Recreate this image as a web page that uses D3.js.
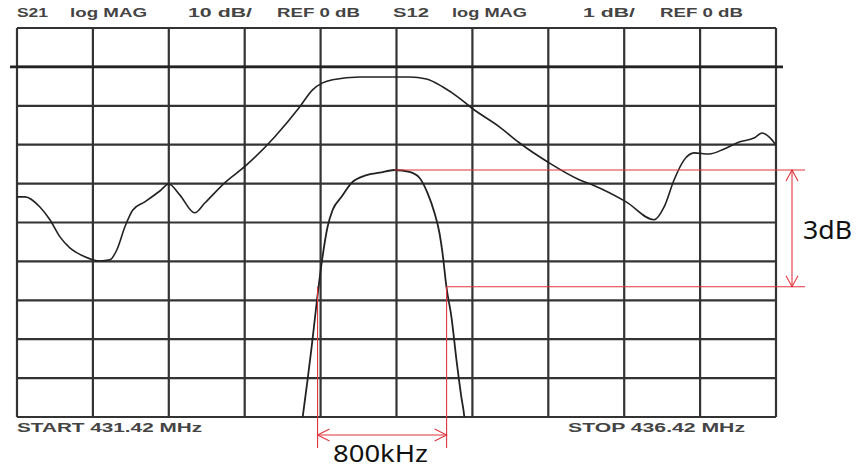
<!DOCTYPE html>
<html>
<head>
<meta charset="utf-8">
<script src="https://cdn.jsdelivr.net/npm/d3@7"></script>
<style>
body { margin: 0; background: #fff; }
svg { display: block; }
</style>
</head>
<body>
<svg></svg>
<script>
// sweep / display settings
const startMHz = 431.42;
const stopMHz = 436.42;
const s21Range = [-90, 10];   // 10 dB/div, REF 0 dB
const s12Range = [-9, 1];     // 1 dB/div, REF 0 dB

// S21 trace, log MAG (dB)
const s21Freq = [431.42, 431.473, 431.571, 431.637, 431.703, 431.768, 431.867, 431.966, 432.032, 432.078,
  432.131, 432.183, 432.262, 432.361, 432.42, 432.492, 432.591, 432.657, 432.788, 432.927,
  433.117, 433.282, 433.367, 433.433, 433.499, 433.677, 433.808, 434.006, 434.117, 434.223,
  434.334, 434.413, 434.598, 434.729, 434.927, 435.124, 435.209, 435.433, 435.617, 435.683,
  435.749, 435.815, 435.881, 435.979, 436.078, 436.177, 436.275, 436.328, 436.374, 436.42];
const s21Db = [-33.4, -33.4, -36.0, -39.3, -43.7, -46.5, -48.8, -49.9, -49.6, -47.0,
  -41.1, -36.8, -34.7, -31.9, -30.1, -32.9, -37.5, -35.0, -29.8, -25.4,
  -18.0, -10.3, -5.9, -4.1, -3.3, -2.6, -2.6, -2.6, -3.1, -5.1,
  -8.0, -10.5, -15.4, -19.5, -24.7, -29.0, -30.3, -34.7, -39.3, -36.0,
  -29.0, -23.9, -22.1, -22.4, -21.1, -19.3, -18.3, -17.0, -18.0, -20.1];

// S12 trace, log MAG (dB)
const s12Freq = [433.282, 433.302, 433.334, 433.361, 433.394, 433.427, 433.466, 433.499, 433.558, 433.624,
  433.723, 433.808, 433.907, 434.006, 434.071, 434.124, 434.170, 434.203, 434.223, 434.249,
  434.282, 434.315, 434.347, 434.367, 434.380];
const s12Db = [-9.6, -9.0, -8.05, -7.2, -6.07, -5.04, -4.11, -3.68, -3.34, -2.98,
  -2.78, -2.72, -2.65, -2.70, -2.85, -3.24, -3.75, -4.27, -4.78, -5.66,
  -6.43, -7.53, -8.48, -9.0, -9.6];

// 3 dB bandwidth markers
const peakFreq = 433.907;
const peakDb = -2.65;
const lowDb = -5.65;
const bwFreq = [433.40, 434.25];
const bwLabel = "800kHz";
const dbLabel = "3dB";

const headerText = ["S21", "log MAG", "10 dB/", "REF 0 dB", "S12", "log MAG", "1 dB/", "REF 0 dB"];
const footerText = ["START  431.42 MHz", "STOP  436.42 MHz"];

// layout
const width = 857, height = 468;
const frame = { left: 17, right: 776, top: 28, bottom: 417 };

const svg = d3.select("svg")
  .attr("width", width)
  .attr("height", height)
  .style("font-family", "'Liberation Sans', Arial, sans-serif");

const x = d3.scaleLinear().domain([startMHz, stopMHz]).range([frame.left, frame.right]);
const y21 = d3.scaleLinear().domain(s21Range).range([frame.bottom, frame.top]);
const y12 = d3.scaleLinear().domain(s12Range).range([frame.bottom, frame.top]);

const gridColor = "#333";
const red = "#e0353d";

// grid
const vLines = d3.range(11).map(i => startMHz + i * 0.5);
const hLines = d3.range(11).map(i => s21Range[0] + i * 10);

svg.append("g").selectAll("line")
  .data(vLines)
  .enter()
  .append("line")
  .attr("x1", d => x(d)).attr("x2", d => x(d))
  .attr("y1", frame.top).attr("y2", frame.bottom)
  .attr("stroke", gridColor)
  .attr("stroke-width", 2.2);

svg.append("g").selectAll("line")
  .data(hLines)
  .enter()
  .append("line")
  .attr("x1", frame.left).attr("x2", frame.right)
  .attr("y1", d => y21(d)).attr("y2", d => y21(d))
  .attr("stroke", gridColor)
  .attr("stroke-width", 2.2);

// reference line (0 dB) with little ticks out of the frame
svg.append("line")
  .attr("x1", frame.left - 7).attr("x2", frame.right + 7)
  .attr("y1", y21(0)).attr("y2", y21(0))
  .attr("stroke", "#222")
  .attr("stroke-width", 2.6);

// clip traces to the graticule
svg.append("clipPath").attr("id", "frame")
  .append("rect")
  .attr("x", frame.left).attr("y", frame.top)
  .attr("width", frame.right - frame.left).attr("height", frame.bottom - frame.top);

const s21 = s21Freq.map((f, i) => ({ f: f, db: s21Db[i] }));
const s12 = s12Freq.map((f, i) => ({ f: f, db: s12Db[i] }));

svg.append("path")
  .datum(s21)
  .attr("clip-path", "url(#frame)")
  .attr("fill", "none")
  .attr("stroke", "#222")
  .attr("stroke-width", 1.6)
  .attr("d", d3.line().x(d => x(d.f)).y(d => y21(d.db)).curve(d3.curveMonotoneX));

svg.append("path")
  .datum(s12)
  .attr("clip-path", "url(#frame)")
  .attr("fill", "none")
  .attr("stroke", "#222")
  .attr("stroke-width", 1.8)
  .attr("d", d3.line().x(d => x(d.f)).y(d => y12(d.db)).curve(d3.curveMonotoneX));

// red annotations
const ann = svg.append("g")
  .attr("stroke", red)
  .attr("stroke-width", 1.1)
  .attr("fill", "none");

const arrowX = frame.right + 16;
const lineEnd = frame.right + 29;
const arrowY = frame.bottom + 18;

ann.append("line")
  .attr("x1", x(peakFreq)).attr("x2", lineEnd)
  .attr("y1", y12(peakDb)).attr("y2", y12(peakDb));
ann.append("line")
  .attr("x1", x(bwFreq[1])).attr("x2", lineEnd)
  .attr("y1", y12(lowDb)).attr("y2", y12(lowDb));

// vertical 3dB arrow
ann.append("line")
  .attr("x1", arrowX).attr("x2", arrowX)
  .attr("y1", y12(peakDb)).attr("y2", y12(lowDb));
ann.append("path")
  .attr("d", `M${arrowX - 6},${y12(peakDb) + 11}L${arrowX},${y12(peakDb)}L${arrowX + 6},${y12(peakDb) + 11}`);
ann.append("path")
  .attr("d", `M${arrowX - 6},${y12(lowDb) - 11}L${arrowX},${y12(lowDb)}L${arrowX + 6},${y12(lowDb) - 11}`);

// bandwidth markers
bwFreq.forEach(f => {
  ann.append("line")
    .attr("x1", x(f)).attr("x2", x(f))
    .attr("y1", y12(lowDb)).attr("y2", frame.bottom + 31);
});
ann.append("line")
  .attr("x1", x(bwFreq[0])).attr("x2", x(bwFreq[1]))
  .attr("y1", arrowY).attr("y2", arrowY);
ann.append("path")
  .attr("d", `M${x(bwFreq[0]) + 12},${arrowY - 6}L${x(bwFreq[0])},${arrowY}L${x(bwFreq[0]) + 12},${arrowY + 6}`);
ann.append("path")
  .attr("d", `M${x(bwFreq[1]) - 12},${arrowY - 6}L${x(bwFreq[1])},${arrowY}L${x(bwFreq[1]) - 12},${arrowY + 6}`);

svg.append("text")
  .attr("x", 803).attr("y", 239)
  .attr("font-family", "'Noto Sans', sans-serif")
  .attr("font-size", 25)
  .attr("textLength", 49)
  .attr("lengthAdjust", "spacingAndGlyphs")
  .attr("fill", "#111")
  .text(dbLabel);

svg.append("text")
  .attr("x", 333).attr("y", 462)
  .attr("font-family", "'Noto Sans', sans-serif")
  .attr("font-size", 23)
  .attr("textLength", 95)
  .attr("lengthAdjust", "spacingAndGlyphs")
  .attr("fill", "#111")
  .text(bwLabel);

// analyzer header / footer
const headerX = [17, 70, 188, 277, 393, 452, 583, 660];
const headerW = [31, 77, 64, 83, 36, 75, 52, 83];

svg.append("g").selectAll("text")
  .data(headerText)
  .enter()
  .append("text")
  .attr("x", (d, i) => headerX[i])
  .attr("y", 17)
  .attr("font-size", 12.5)
  .attr("font-weight", "bold")
  .attr("fill", "#444")
  .attr("textLength", (d, i) => headerW[i])
  .attr("lengthAdjust", "spacingAndGlyphs")
  .text(d => d);

const footerX = [17, 568];
const footerW = [185, 177];

svg.append("g").selectAll("text")
  .data(footerText)
  .enter()
  .append("text")
  .attr("x", (d, i) => footerX[i])
  .attr("y", 432)
  .attr("font-size", 12.5)
  .attr("font-weight", "bold")
  .attr("fill", "#444")
  .attr("textLength", (d, i) => footerW[i])
  .attr("lengthAdjust", "spacingAndGlyphs")
  .text(d => d);
</script>
</body>
</html>
